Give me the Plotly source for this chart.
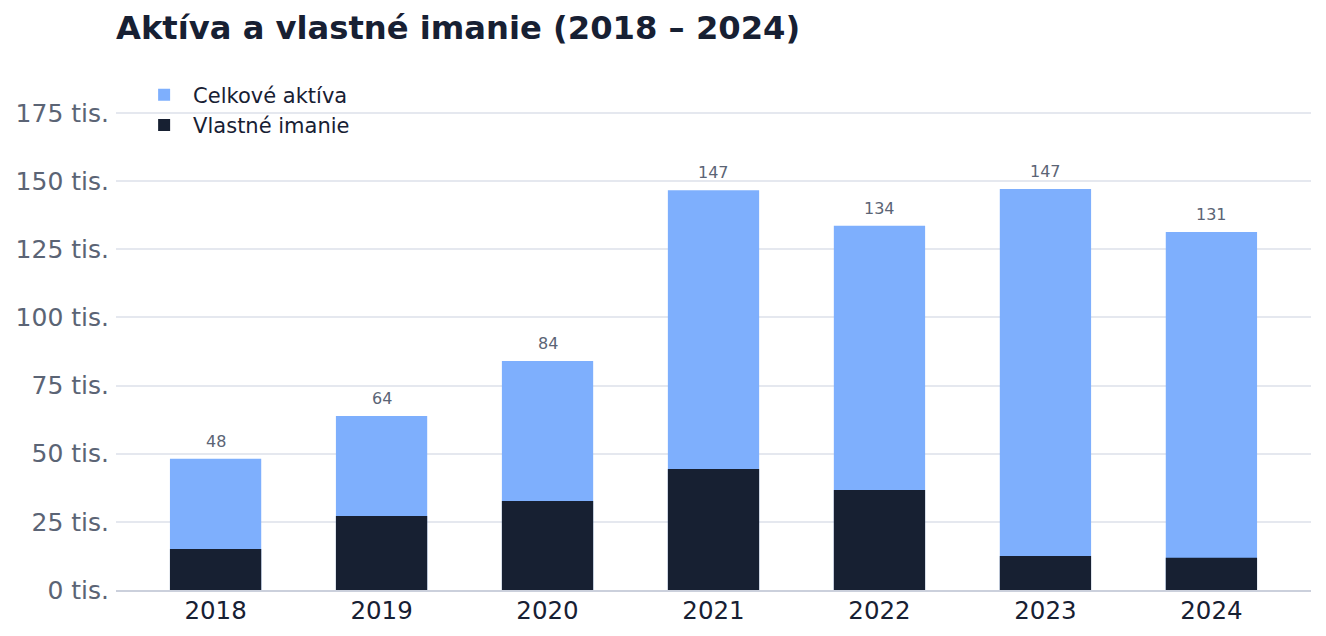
import plotly.graph_objects as go

years = ["2018", "2019", "2020", "2021", "2022", "2023", "2024"]
assets = [48.1, 63.8, 84.0, 146.6, 133.6, 147.1, 131.3]   # tis.
equity = [15.0, 27.1, 32.6, 44.4, 36.7, 12.5, 11.8]       # tis.
asset_labels = [f"{round(v)}" for v in assets]

fig = go.Figure()
fig.add_trace(go.Bar(
    x=years, y=assets, name="Celkové aktíva",
    marker=dict(color="#7eaffd", line=dict(width=0)),
    width=0.55,
))
fig.add_trace(go.Bar(
    x=years, y=equity, name="Vlastné imanie",
    marker=dict(color="#172032", line=dict(width=0)),
    width=0.55,
))

for i, (v, lab) in enumerate(zip(assets, asset_labels)):
    fig.add_annotation(x=i, y=v, text=lab, showarrow=False,
                       xref="x", yref="y",
                       yanchor="bottom", yshift=6,
                       font=dict(size=16, color="#5b6475"))

fig.update_layout(
    barmode="overlay",
    width=1326, height=636,
    margin=dict(l=116, r=15, t=72, b=46),
    paper_bgcolor="white", plot_bgcolor="white",
    font=dict(family="DejaVu Sans", color="#172033"),
    title=dict(text="<b>Aktíva a vlastné imanie (2018 – 2024)</b>",
               x=116/1326, xanchor="left", y=0.974, yanchor="top",
               font=dict(size=32.2, color="#172033")),
    legend=dict(x=0.016, y=0.995, xanchor="left", yanchor="top",
                font=dict(size=21, color="#172033"), itemwidth=48,
                bgcolor="rgba(0,0,0,0)", traceorder="normal"),
    xaxis=dict(type="category", range=[-0.6, 6.6], showgrid=False, automargin=False,
               showline=True, linecolor="#cbd0dc", linewidth=2,
               ticklabelstandoff=-2,
               tickfont=dict(size=24.5, color="#172033"), ticks=""),
    yaxis=dict(range=[0, 190], dtick=25, ticksuffix=" tis.",
               showgrid=True, gridcolor="#e5e8ef", gridwidth=2,
               zeroline=False, showline=False, automargin=False,
               ticklabelstandoff=6,
               tickfont=dict(size=25, color="#5b6475"), ticks=""),
)

fig.write_html("out.html")
